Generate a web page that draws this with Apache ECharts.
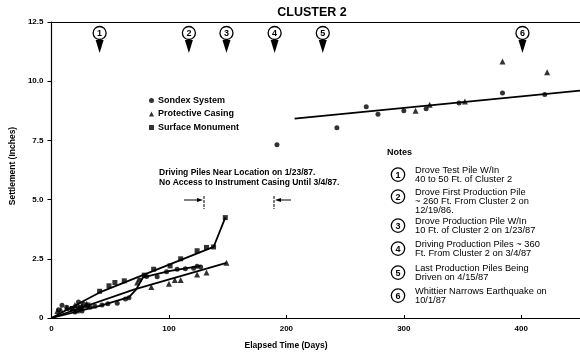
<!DOCTYPE html>
<html>
<head>
<meta charset="utf-8">
<script src="https://cdn.jsdelivr.net/npm/echarts@6/dist/echarts.min.js"></script>
<style>
html, body { margin: 0; padding: 0; background: #fff; }
#main { width: 580px; height: 354px; }
</style>
</head>
<body>
<div id="main"></div>
<script>
// measured points [day, settlement in inches]
var sondexData = [
    [6, 0.35], [9, 0.54], [13, 0.45], [17, 0.4], [20, 0.25], [22, 0.5], [23, 0.68], [24, 0.4],
    [26, 0.3], [27, 0.6], [30, 0.5], [33, 0.45], [37, 0.5], [43, 0.55], [48, 0.6], [56, 0.62],
    [63, 0.8], [66, 0.85], [75, 1.6], [81, 1.75], [90, 1.74], [98, 1.95], [107, 2.06],
    [114, 2.08], [121, 2.1], [124, 2.19], [127, 2.15],
    [192, 7.32], [243, 8.03], [268, 8.92], [278, 8.6], [300, 8.75], [319, 8.84], [347, 9.08],
    [384, 9.5], [420, 9.44]
];
var casingData = [
    [5, 0.3], [8, 0.35], [13, 0.42], [20, 0.55], [26, 0.5], [30, 0.6], [73, 1.5], [85, 1.31],
    [100, 1.45], [105, 1.6], [110, 1.6], [124, 1.84], [132, 1.92], [149, 2.33],
    [310, 8.75], [322, 9.01], [352, 9.14], [384, 10.83], [422, 10.38]
];
var monumentData = [
    [18, 0.4], [22, 0.3], [25, 0.45], [31, 0.55], [41, 1.13], [49, 1.36], [54, 1.5], [62, 1.57],
    [79, 1.81], [87, 2.06], [101, 2.2], [110, 2.5], [124, 2.84], [132, 2.98], [138, 3.0], [148, 4.24]
];

// fitted curves
var sondexFit = [[0, 0], [42, 0.52], [66, 0.88], [72, 1.2], [78, 1.72], [100, 1.98], [127, 2.2]];
var casingFit = [[0, 0], [70, 1.2], [149, 2.33]];
var monumentFit = [[0, 0], [41, 1.08], [138, 3.0], [148, 4.24]];
var lateFit = [[207, 8.42], [450, 9.6]];

// numbered events (days)
var eventDays = [41, 117, 149, 190, 231, 401];

var noteLines = [
    ['Drove Test Pile W/In', '40 to 50 Ft. of Cluster 2'],
    ['Drove First Production Pile', '~ 260 Ft. From Cluster 2 on', '12/19/86.'],
    ['Drove Production Pile W/In', '10 Ft. of Cluster 2 on 1/23/87'],
    ['Driving Production Piles ~ 360', 'Ft. From Cluster 2 on 3/4/87'],
    ['Last Production Piles Being', 'Driven on 4/15/87'],
    ['Whittier Narrows Earthquake on', '10/1/87']
];
var noteTops = [170, 192, 221, 244, 268, 291];

var font = '"Liberation Sans", Arial, sans-serif';
var chart = echarts.init(document.getElementById('main'));

function fitLine(data) {
    return {
        type: 'line', data: data, symbol: 'none', silent: true,
        lineStyle: { color: '#000', width: 1.8 }, z: 1
    };
}

// notes block
var graphics = [
    { type: 'text', style: { text: 'Notes', x: 387, y: 153, verticalAlign: 'middle', font: 'bold 9px ' + font, fill: '#000' } }
];
noteLines.forEach(function (lines, i) {
    var ny = noteTops[i];
    graphics.push({ type: 'circle', shape: { cx: 398, cy: ny + 4.6, r: 6.7 }, style: { fill: '#fff', stroke: '#000', lineWidth: 1.3 } });
    graphics.push({ type: 'text', style: { text: String(i + 1), x: 398, y: ny + 5.1, align: 'center', verticalAlign: 'middle', font: 'bold 9px ' + font, fill: '#000' } });
    lines.forEach(function (t, j) {
        graphics.push({ type: 'text', style: { text: t, x: 415, y: ny + j * 9.2, verticalAlign: 'middle', font: '9.3px ' + font, fill: '#000' } });
    });
});

// driving-piles annotation
graphics.push(
    { type: 'text', style: { text: 'Driving Piles Near Location on 1/23/87.', x: 159, y: 173, verticalAlign: 'middle', font: 'bold 8.5px ' + font, fill: '#000' } },
    { type: 'text', style: { text: 'No Access to Instrument Casing Until 3/4/87.', x: 159, y: 182.5, verticalAlign: 'middle', font: 'bold 8.5px ' + font, fill: '#000' } },
    { type: 'line', shape: { x1: 204, y1: 196, x2: 204, y2: 209 }, style: { stroke: '#000', lineWidth: 1, lineDash: [3, 1] } },
    { type: 'line', shape: { x1: 184, y1: 200, x2: 199, y2: 200 }, style: { stroke: '#000', lineWidth: 1 } },
    { type: 'polygon', shape: { points: [[203, 200], [197, 198], [197, 202]] }, style: { fill: '#000' } },
    { type: 'line', shape: { x1: 274, y1: 196, x2: 274, y2: 209 }, style: { stroke: '#000', lineWidth: 1, lineDash: [3, 1] } },
    { type: 'line', shape: { x1: 279, y1: 200, x2: 291, y2: 200 }, style: { stroke: '#000', lineWidth: 1 } },
    { type: 'polygon', shape: { points: [[275, 200], [281, 198], [281, 202]] }, style: { fill: '#000' } },
    { type: 'text', style: { text: 'Elapsed Time (Days)', x: 286, y: 346, align: 'center', verticalAlign: 'middle', font: 'bold 8.5px ' + font, fill: '#000' } },
    { type: 'text', style: { text: 'CLUSTER 2', x: 312, y: 13, align: 'center', verticalAlign: 'middle', font: 'bold 12.5px ' + font, fill: '#000' } }
);

var option = {
    animation: false,
    backgroundColor: '#fff',
    legend: {
        orient: 'vertical', left: 144, top: 91, itemGap: 4.5, itemWidth: 5, itemHeight: 5,
        textStyle: { fontFamily: font, fontWeight: 'bold', fontSize: 9, color: '#000', padding: [0, 0, 0, -1] },
        data: [
            { name: 'Sondex System', icon: 'circle' },
            { name: 'Protective Casing', icon: 'triangle' },
            { name: 'Surface Monument', icon: 'rect' }
        ]
    },
    grid: { left: 51, top: 22, right: 0, bottom: 36 },
    xAxis: [{
        type: 'value', min: 0, max: 450, interval: 100,
        axisLine: { lineStyle: { color: '#000', width: 1.2 } },
        axisTick: { inside: true, length: 3, lineStyle: { color: '#000' } },
        axisLabel: { color: '#000', fontFamily: font, fontWeight: 'bold', fontSize: 8, margin: 7, showMaxLabel: false },
        splitLine: { show: false }
    }, {
        type: 'value', position: 'top', min: 0, max: 450,
        axisLine: { show: true, lineStyle: { color: '#000', width: 1.2 } },
        axisTick: { show: false }, axisLabel: { show: false }, splitLine: { show: false }
    }],
    yAxis: {
        type: 'value', min: 0, max: 12.5, interval: 2.5,
        name: 'Settlement (Inches)', nameLocation: 'middle', nameGap: 30,
        nameTextStyle: { fontFamily: font, fontWeight: 'bold', fontSize: 8.5, color: '#000', padding: [0, 0, 0, 8] },
        axisLine: { show: true, lineStyle: { color: '#000', width: 1.2 } },
        axisTick: { show: true, length: 4, lineStyle: { color: '#000' } },
        axisLabel: {
            color: '#000', fontFamily: font, fontWeight: 'bold', fontSize: 8, margin: 8,
            formatter: function (v) { return v === 0 ? '0' : v.toFixed(1); }
        },
        splitLine: { show: false }
    },
    graphic: graphics,
    series: [
        fitLine(sondexFit), fitLine(casingFit), fitLine(monumentFit), fitLine(lateFit),
        { name: 'Sondex System', type: 'scatter', data: sondexData, symbol: 'circle', symbolSize: 5, itemStyle: { color: '#000' }, z: 3 },
        { name: 'Protective Casing', type: 'scatter', data: casingData, symbol: 'triangle', symbolSize: 6, itemStyle: { color: '#000' }, z: 3 },
        { name: 'Surface Monument', type: 'scatter', data: monumentData, symbol: 'rect', symbolSize: 5, itemStyle: { color: '#000' }, z: 3 },
        {
            type: 'custom', silent: true, z: 4,
            data: eventDays.map(function (d, i) { return [d, i + 1]; }),
            renderItem: function (params, api) {
                var p = api.coord([api.value(0), 12.5]);
                var x = p[0], y = p[1];
                return {
                    type: 'group',
                    children: [
                        { type: 'circle', shape: { cx: x, cy: y + 11, r: 6.5 }, style: { fill: '#fff', stroke: '#000', lineWidth: 1.3 } },
                        { type: 'text', style: { text: String(api.value(1)), x: x, y: y + 11.5, align: 'center', verticalAlign: 'middle', font: 'bold 9px ' + font, fill: '#000' } },
                        { type: 'polygon', shape: { points: [[x - 4, y + 18], [x + 4, y + 18], [x, y + 31]] }, style: { fill: '#000' } }
                    ]
                };
            }
        }
    ]
};
chart.setOption(option);
</script>
</body>
</html>
